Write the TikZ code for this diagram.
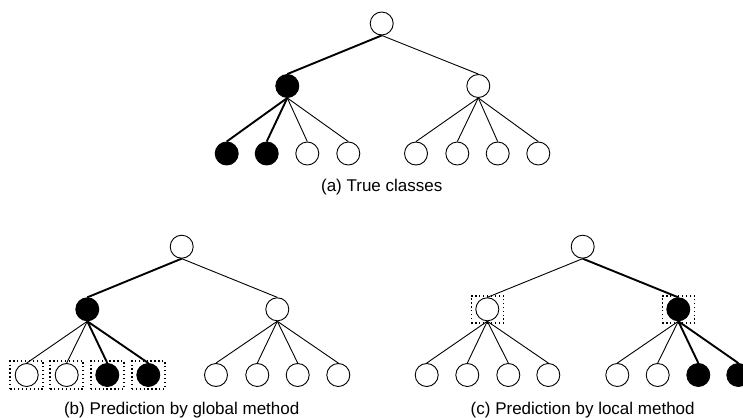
\documentclass[tikz,border=0pt]{standalone}
\usepackage{fontspec}
\setmainfont{Liberation Sans}
\begin{document}
\begin{tikzpicture}[x=1pt,y=-1pt,
  nd/.style={circle,draw,line width=0.9pt,minimum size=23pt,inner sep=0pt,fill=white},
  on/.style={nd,fill=black},
  thinedge/.style={line width=0.9pt},
  hot/.style={line width=1.9pt},
  dotbox/.style={draw,line width=1.5pt,dash pattern=on 1.3pt off 2.6pt,inner sep=0pt},
  captext/.style={font=\fontsize{17}{20}\selectfont,anchor=base}]
\useasboundingbox (0,0) rectangle (743,417);

% ---------- (a) ----------
\node[nd] (aR) at (381.7,23.5) {};
\node[on] (aA) at (287.3,86) {};
\node[nd] (aB) at (478.3,86) {};
\node[on] (a1) at (226.7,153.5) {};
\node[on] (a2) at (266.7,153.5) {};
\node[nd] (a3) at (307.3,153.5) {};
\node[nd] (a4) at (348.3,153.5) {};
\node[nd] (a5) at (416,153.5) {};
\node[nd] (a6) at (457.3,153.5) {};
\node[nd] (a7) at (497.7,153.5) {};
\node[nd] (a8) at (538.3,153.5) {};
\draw[hot] (aR.south) -- (aA.north);
\draw[thinedge] (aR.south) -- (aB.north);
\draw[hot] (aA.south) -- (a1.north);
\draw[hot] (aA.south) -- (a2.north);
\draw[thinedge] (aA.south) -- (a3.north);
\draw[thinedge] (aA.south) -- (a4.north);
\foreach \i in {5,...,8} \draw[thinedge] (aB.south) -- (a\i.north);
\node[captext] (ca) at (381.7,191.7) {(a) True classes};

% ---------- (b) ----------
\node[dotbox,minimum width=33pt,minimum height=28pt] (bx1) at (26.7,375) {};
\node[dotbox,minimum width=33pt,minimum height=28pt] (bx2) at (66.7,375) {};
\node[dotbox,minimum width=33pt,minimum height=28pt] (bx3) at (107.3,375) {};
\node[dotbox,minimum width=33pt,minimum height=28pt] (bx4) at (148.3,375) {};
\node[nd] (bR) at (181.7,246.7) {};
\node[on] (bA) at (87.3,309.3) {};
\node[nd] (bB) at (277.3,309.3) {};
\node[nd] (b1) at (26.7,375) {};
\node[nd] (b2) at (66.7,375) {};
\node[on] (b3) at (107.3,375) {};
\node[on] (b4) at (148.3,375) {};
\node[nd] (b5) at (216,375) {};
\node[nd] (b6) at (257.3,375) {};
\node[nd] (b7) at (297.7,375) {};
\node[nd] (b8) at (338.3,375) {};
\draw[hot] (bR.south) -- (bA.north);
\draw[thinedge] (bR.south) -- (bB.north);
\draw[thinedge] (bA.south) -- (b1.north);
\draw[thinedge] (bA.south) -- (b2.north);
\draw[hot] (bA.south) -- (b3.north);
\draw[hot] (bA.south) -- (b4.north);
\foreach \i in {5,...,8} \draw[thinedge] (bB.south) -- (b\i.north);
\node[captext] (cb) at (181.7,414.3) {(b) Prediction by global method};

% ---------- (c) ----------
\node[dotbox,minimum width=32pt,minimum height=27pt] (cxA) at (487.3,309.3) {};
\node[dotbox,minimum width=32pt,minimum height=27pt] (cxB) at (678.3,309.3) {};
\node[nd] (cR) at (582.7,246.7) {};
\node[nd] (cA) at (487.3,309.3) {};
\node[on] (cB) at (678.3,309.3) {};
\node[nd] (c1) at (426.7,375) {};
\node[nd] (c2) at (467.3,375) {};
\node[nd] (c3) at (508.3,375) {};
\node[nd] (c4) at (548.3,375) {};
\node[nd] (c5) at (617.3,375) {};
\node[nd] (c6) at (657.7,375) {};
\node[on] (c7) at (698.3,375) {};
\node[on] (c8) at (738.3,375) {};
\draw[thinedge] (cR.south) -- (cA.north);
\draw[hot] (cR.south) -- (cB.north);
\foreach \i in {1,...,4} \draw[thinedge] (cA.south) -- (c\i.north);
\draw[thinedge] (cB.south) -- (c5.north);
\draw[thinedge] (cB.south) -- (c6.north);
\draw[hot] (cB.south) -- (c7.north);
\draw[hot] (cB.south) -- (c8.north);
\node[captext] (cc) at (582.7,414.3) {(c) Prediction by local method};
\end{tikzpicture}
\end{document}
